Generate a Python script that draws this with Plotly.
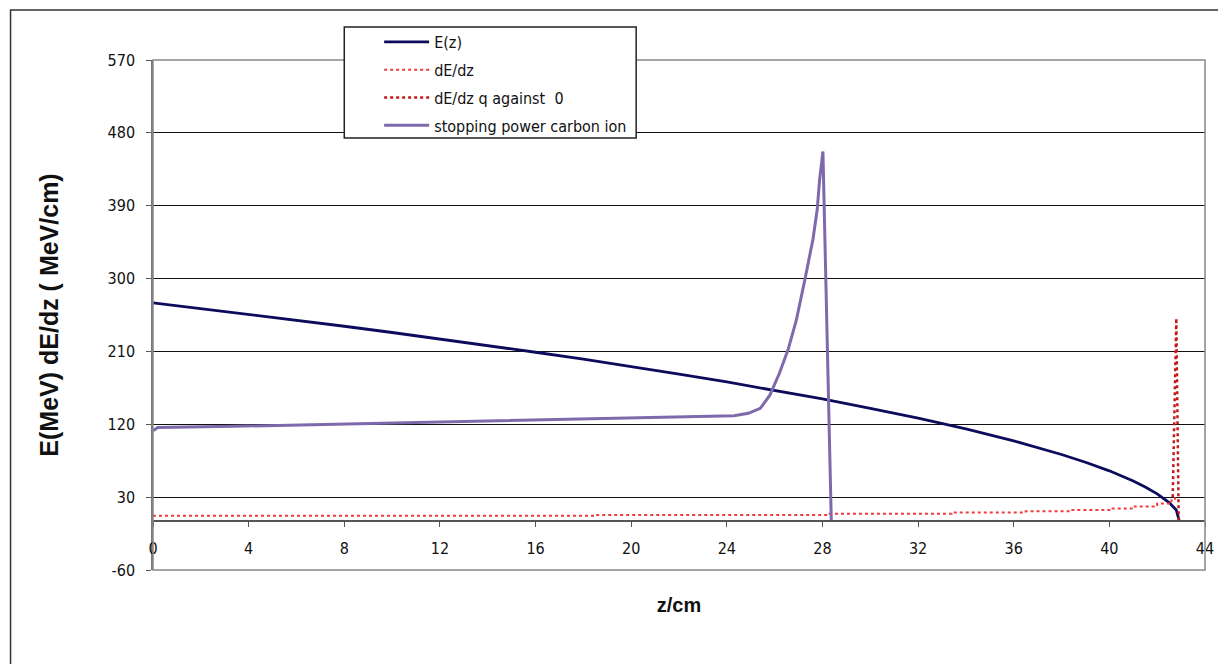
import plotly.graph_objects as go

# ---- data ----
z_E = [0, 2, 4, 6, 8, 10, 12, 14, 16, 18, 20, 22, 24, 26, 28, 30, 32, 34, 36, 38, 39, 40, 41, 41.5, 42, 42.5, 42.8, 42.93]
E_vals = [270, 263, 255.9, 248.6, 241.1, 233.4, 225.5, 217.4, 209, 200.4, 191.4, 182, 172.3, 162.1, 151.3, 139.8,
          127.6, 114.2, 99.5, 82.7, 73.1, 62.5, 50, 42.6, 34.1, 23.3, 14.1, 0]

z_dEdz = [0, 18.5, 28.3, 33.4, 36.5, 38.4, 40, 41, 42, 42.6, 42.75]
dEdz_vals = [7, 8, 9.5, 11, 12.5, 14, 16, 18.5, 22, 28, 30]

z_q = [42.65, 42.8, 42.9]
q_vals = [30, 251, 0]

z_sp = [0, 0.2, 3.4, 6.5, 9.6, 12.7, 15.7, 18.7, 21.6, 24.3, 24.9, 25.4, 25.8, 26.2, 26.56, 26.91,
        27.26, 27.6, 27.78, 27.88, 28.02, 28.37]
sp_vals = [112, 116, 117.5, 119.5, 121.5, 123, 125, 127, 129, 130.5, 133.6, 139.7, 156, 183, 212, 249,
           298, 348, 385, 422, 457, 0]

x_ticks = [0, 4, 8, 12, 16, 20, 24, 28, 32, 36, 40, 44]
y_ticks = [-60, 30, 120, 210, 300, 390, 480, 570]

names = ["E(z)", "dE/dz", "dE/dz q against  0", "stopping power carbon ion"]

NARROW = "DejaVu Sans Condensed, Liberation Sans Narrow, Arial Narrow, sans-serif"
BOLD = "Liberation Sans, Arial, sans-serif"

fig = go.Figure()
fig.add_trace(go.Scatter(x=z_E, y=E_vals, mode="lines", name=names[0], legendgroup="a",
                         line=dict(color="#0C0C5C", width=2.8)))
fig.add_trace(go.Scatter(x=z_dEdz, y=dEdz_vals, mode="lines", name=names[1], legendgroup="b",
                         line=dict(color="#F03C3C", width=2, dash="dot", shape="hv")))
fig.add_trace(go.Scatter(x=z_q, y=q_vals, mode="lines", name=names[2], legendgroup="c",
                         line=dict(color="#C41A1A", width=2.5, dash="dot")))
fig.add_trace(go.Scatter(x=z_sp, y=sp_vals, mode="lines", name=names[3], legendgroup="d",
                         line=dict(color="#7E69AC", width=3)))

# page is drawn with an 8px body margin
OFF = 8
W, H = 1218, 656
L, R, T, B = 153 - OFF, 17, 60 - OFF, 94
pw, ph = W - L - R, H - T - B

def px(x):  # screen x -> paper
    return (x - OFF - L) / pw

def py(y):  # screen y -> paper
    return (H - B - (y - OFF)) / ph

fig.update_layout(
    width=W, height=H,
    margin=dict(l=L, r=R, t=T, b=B),
    paper_bgcolor="white", plot_bgcolor="white",
    font=dict(family=NARROW, size=16, color="#111111"),
    showlegend=True,
    legend=dict(x=px(380), y=py(25), xanchor="left", yanchor="top",
                bgcolor="rgba(0,0,0,0)", borderwidth=0,
                font=dict(family=NARROW, size=16, color="#111111"),
                itemwidth=45, traceorder="grouped", tracegroupgap=4),
    xaxis=dict(range=[0, 44], tickvals=x_ticks, ticktext=[str(v) for v in x_ticks],
               showgrid=False, zeroline=False, showline=True, linecolor="#555555", linewidth=1.5,
               ticks="outside", ticklen=5, tickcolor="#555555",
               anchor="free", position=60 / 630, ticklabelstandoff=8,
               tickfont=dict(family=NARROW, size=16, color="#111111"),
               title=dict(text="<b>z/cm</b>", font=dict(family=BOLD, size=20, color="#111111"), standoff=40)),
    yaxis=dict(range=[-60, 570], tickvals=y_ticks, ticktext=[str(v) for v in y_ticks],
               showgrid=True, gridcolor="#111111", gridwidth=1, zeroline=False,
               showline=True, linecolor="#777777", linewidth=1.5,
               ticks="outside", ticklen=5, tickcolor="#555555", ticklabelstandoff=8,
               tickfont=dict(family=NARROW, size=16, color="#111111"),
               title=dict(text="<b>E(MeV) dE/dz ( MeV/cm)</b>",
                          font=dict(family=BOLD, size=25, color="#111111"), standoff=42)),
    shapes=[
        dict(type="rect", xref="paper", yref="paper", x0=0, y0=0, x1=1, y1=1,
             line=dict(color="#888888", width=1.5), layer="above"),
        dict(type="rect", xref="paper", yref="paper", x0=px(10), y0=py(700), x1=px(1260), y1=py(10),
             line=dict(color="#333333", width=1.5), layer="above"),
        dict(type="rect", xref="paper", yref="paper", x0=px(345), y0=py(138), x1=px(638), y1=py(27),
             line=dict(color="#222222", width=1.5), fillcolor="white", layer="above"),
    ],
)

fig.write_html("out.html")
